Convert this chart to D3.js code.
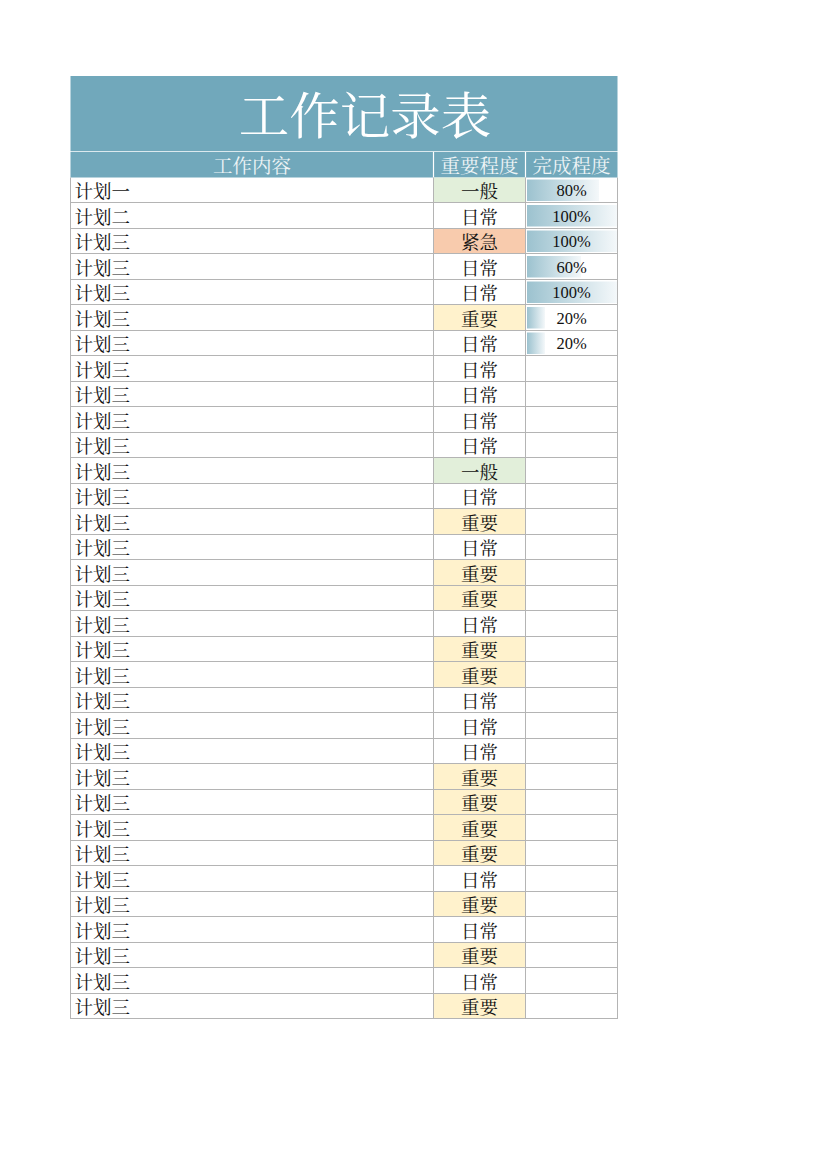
<!DOCTYPE html>
<html><head><meta charset="utf-8">
<script src="https://cdn.jsdelivr.net/npm/d3@7"></script>
<style>html,body{margin:0;padding:0;background:#fff;}</style>
</head><body>
<svg id="c" width="827" height="1170"></svg>
<script>
const title = "工作记录表";
const headers = ["工作内容", "重要程度", "完成程度"];
const tasks = ["计划一","计划二","计划三","计划三","计划三","计划三","计划三","计划三","计划三","计划三","计划三","计划三","计划三","计划三","计划三","计划三","计划三","计划三","计划三","计划三","计划三","计划三","计划三","计划三","计划三","计划三","计划三","计划三","计划三","计划三","计划三","计划三","计划三"];
const levels = ["一般","日常","紧急","日常","日常","重要","日常","日常","日常","日常","日常","一般","日常","重要","日常","重要","重要","日常","重要","重要","日常","日常","日常","重要","重要","重要","重要","日常","重要","日常","重要","日常","重要"];
const progress = [80,100,100,60,100,20,20];
const levelColors = {"一般":"#e2efda","紧急":"#f8cbad","重要":"#fff2cc","日常":"#ffffff"};

const svg = d3.select("#c");
const serif = "'Noto Serif CJK SC','Liberation Serif','Noto Sans CJK SC',serif";
const L = 70.5, R = 617.5, colX = [70.5, 433.5, 525.5, 617.5];
const titleTop = 76, titleBot = 151, headTop = 152, headBot = 177.5, dataTop = 177.5, rowH = 25.5;
const y = d3.scaleBand().domain(d3.range(tasks.length)).range([dataTop, dataTop + rowH*tasks.length]);
const xBar = d3.scaleLinear().domain([0,100]).range([colX[2]+1.5, colX[3]-0.5]);

// title band
svg.append("rect").attr("x",L).attr("y",titleTop).attr("width",R-L).attr("height",titleBot-titleTop).attr("fill","#71a8bb");
svg.append("text").attr("x",365).attr("y",(titleTop+titleBot)/2+8).attr("text-anchor","middle").attr("dominant-baseline","middle")
  .attr("font-family",serif).attr("font-size",50.5).attr("fill","#ffffff").text(title);
// header
svg.append("rect").attr("x",L).attr("y",headTop).attr("width",R-L).attr("height",headBot-headTop).attr("fill","#71a8bb");
headers.forEach((h,i)=>{
  svg.append("text").attr("x",(colX[i]+colX[i+1])/2).attr("y",(headTop+headBot)/2+3).attr("text-anchor","middle").attr("dominant-baseline","middle")
    .attr("font-family",serif).attr("font-size",19.5).attr("fill","#eef4f6").text(h);
});
[colX[1],colX[2]].forEach(x=>svg.append("line").attr("x1",x).attr("x2",x).attr("y1",headTop).attr("y2",headBot).attr("stroke","#ffffff").attr("stroke-width",1.2));
svg.append("line").attr("x1",L).attr("x2",R).attr("y1",titleBot+0.5).attr("y2",titleBot+0.5).attr("stroke","#dbe9ee").attr("stroke-width",1.2);

const defs = svg.append("defs");
const g = defs.append("linearGradient").attr("id","bar").attr("x1","0%").attr("x2","100%").attr("y1","0%").attr("y2","0%");
g.append("stop").attr("offset","0%").attr("stop-color","#9cc2cf");
g.append("stop").attr("offset","100%").attr("stop-color","#f4f8fa");

const rows = svg.append("g").selectAll("g").data(tasks).join("g");
rows.append("rect").attr("x",colX[1]).attr("y",(d,i)=>y(i)).attr("width",colX[2]-colX[1]).attr("height",y.bandwidth())
  .attr("fill",(d,i)=>levelColors[levels[i]]);
rows.filter((d,i)=>progress[i]!=null).append("rect")
  .attr("x",xBar(0)).attr("y",(d,i)=>y(i)+2).attr("height",y.bandwidth()-4)
  .attr("width",(d,i)=>xBar(progress[i])-xBar(0)).attr("fill","url(#bar)");
rows.append("text").attr("x",colX[0]+4).attr("y",(d,i)=>y(i)+y.bandwidth()/2+3).attr("dominant-baseline","middle")
  .attr("font-family",serif).attr("font-size",18.5).attr("fill","#111").text(d=>d);
rows.append("text").attr("x",(colX[1]+colX[2])/2).attr("y",(d,i)=>y(i)+y.bandwidth()/2+3).attr("dominant-baseline","middle").attr("text-anchor","middle")
  .attr("font-family",serif).attr("font-size",18.5).attr("fill","#111").text((d,i)=>levels[i]);
rows.filter((d,i)=>progress[i]!=null).append("text").attr("x",(colX[2]+colX[3])/2).attr("y",(d,i)=>y(i)+y.bandwidth()/2+2).attr("dominant-baseline","middle").attr("text-anchor","middle")
  .attr("font-family","'Liberation Serif',serif").attr("font-size",16.5).attr("fill","#111").text((d,i)=>progress[i]+"%");

// grid lines
const grid = svg.append("g").attr("stroke","#b4b4b4").attr("stroke-width",1);
d3.range(1, tasks.length+1).forEach(i=>{
  const yy = Math.round(dataTop + rowH*i) - 0.5;
  grid.append("line").attr("x1",L).attr("x2",R).attr("y1",yy).attr("y2",yy);
});
const bottom = dataTop + rowH*tasks.length;
colX.forEach(x=>grid.append("line").attr("x1",x).attr("x2",x).attr("y1",dataTop).attr("y2",bottom));
</script>
</body></html>
